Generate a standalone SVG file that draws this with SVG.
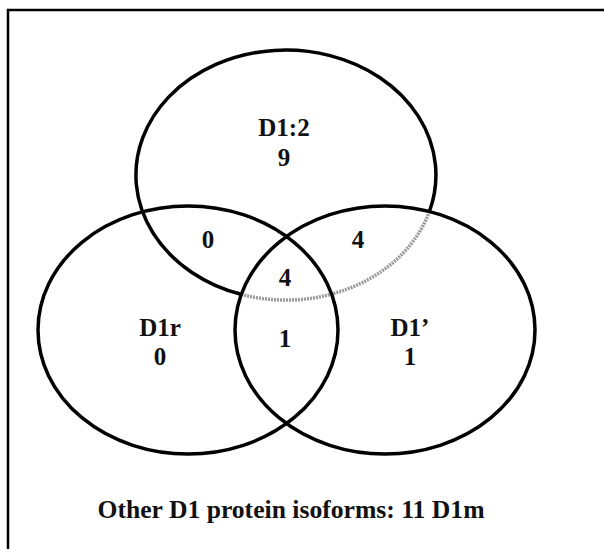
<svg xmlns="http://www.w3.org/2000/svg" width="604" height="549" viewBox="0 0 604 549">
<style>
.c{fill:none;stroke:#000;stroke-width:3.5}
.g{fill:none;stroke:#9a9a9a;stroke-width:3.5;stroke-dasharray:2 1}
.t{font-family:"Liberation Serif","Times New Roman",serif;font-weight:bold;font-size:25px;fill:#111;text-anchor:middle}
</style>
<rect width="604" height="549" fill="#fff"/>
<path d="M8 549 V10 H604" fill="none" stroke="#000" stroke-width="2.5"/>
<g id="set-d12">
<path class="c" d="M241 294.3 A150 125 0 1 1 429.4 211.5"/>
<path class="g" d="M429.4 211.5 A150 125 0 0 1 241 294.3"/>
<text class="t" x="284" y="136">D1:2</text>
<text class="t" x="284" y="166">9</text>
</g>
<g id="set-d1r">
<ellipse class="c" cx="188" cy="330" rx="150" ry="124"/>
<text class="t" x="160" y="336">D1r</text>
<text class="t" x="160" y="365">0</text>
</g>
<g id="set-d1p">
<ellipse class="c" cx="385" cy="330" rx="150" ry="124"/>
<text class="t" x="410" y="336">D1’</text>
<text class="t" x="410" y="365">1</text>
</g>
<g id="regions">
<text class="t" x="208" y="248">0</text>
<text class="t" x="358" y="248">4</text>
<text class="t" x="285" y="286">4</text>
<text class="t" x="285" y="347">1</text>
</g>
<g id="connectors"></g>
<text class="t" x="291" y="518" textLength="387" lengthAdjust="spacingAndGlyphs">Other D1 protein isoforms: 11 D1m</text>
</svg>
